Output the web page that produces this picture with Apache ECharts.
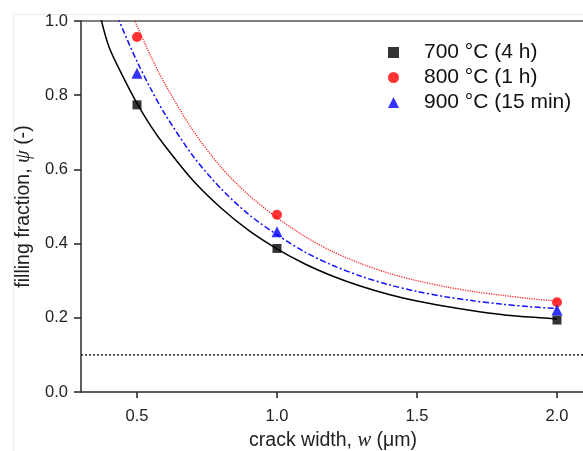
<!DOCTYPE html>
<html>
<head>
<meta charset="utf-8">
<script src="https://cdn.jsdelivr.net/npm/echarts@6/dist/echarts.min.js"></script>
<style>html,body{margin:0;padding:0;background:#fff;}#c{width:583px;height:451px;}</style>
</head>
<body>
<div id="c"></div>
<script>
const seriesNames = ['700 °C (4 h)', '800 °C (1 h)', '900 °C (15 min)'];
const pointX = [0.5, 1.0, 2.0];
const pointY700 = [0.774, 0.387, 0.194];
const pointY800 = [0.957, 0.478, 0.242];
const pointY900 = [0.859, 0.432, 0.221];

const fitX700 = [0.37,0.4,0.45,0.5,0.55,0.6,0.7,0.8,0.9,1.0,1.1,1.2,1.3,1.4,1.5,1.6,1.7,1.8,1.9,2.0];
const fitY700 = [1.01,0.93,0.85,0.778,0.716,0.663,0.570,0.496,0.435,0.386,0.345,0.312,0.285,0.263,0.245,0.231,0.219,0.209,0.202,0.197];
const fitX800 = [0.49,0.5,0.55,0.6,0.7,0.8,0.9,1.0,1.1,1.2,1.3,1.4,1.5,1.6,1.7,1.8,1.9,2.0];
const fitY800 = [1.005,0.987,0.904,0.830,0.705,0.606,0.530,0.470,0.419,0.378,0.346,0.320,0.300,0.284,0.271,0.261,0.252,0.245];
const fitX900 = [0.43,0.45,0.5,0.55,0.6,0.7,0.8,0.9,1.0,1.1,1.2,1.3,1.4,1.5,1.6,1.7,1.8,1.9,2.0];
const fitY900 = [1.013,0.976,0.891,0.816,0.749,0.636,0.548,0.478,0.424,0.377,0.341,0.312,0.289,0.271,0.257,0.246,0.237,0.230,0.225];

const limitX = [0.3, 2.1];
const limitY = [0.1, 0.1];

const xTicks = [0.5, 1.0, 1.5, 2.0];
const xRange = [0.3, 2.1];
const yRange = [0, 1.0];
const yStep = 0.2;

const zip = (xs, ys) => xs.map((x, i) => [x, ys[i]]);

const sans = 'Liberation Sans, Arial, sans-serif';
const serif = 'Liberation Serif, Times New Roman, serif';
const axisCol = '#555';

const chart = echarts.init(document.getElementById('c'), null, {renderer: 'canvas'});
chart.setOption({
  backgroundColor: '#fff',
  animation: false,
  graphic: [{
    type: 'rect', left: 11, top: 12, shape: {width: 600, height: 460},
    style: {fill: 'none', stroke: '#ececec', lineWidth: 1}, silent: true, z: -1
  }],
  grid: {left: 81, top: 21, width: 504, height: 371, outerBoundsMode: 'none', containLabel: false,
    show: true, borderColor: axisCol, borderWidth: 1.5, backgroundColor: 'transparent'},
  legend: {
    orient: 'vertical', left: 383, top: 37,
    data: seriesNames,
    itemWidth: 11, itemHeight: 11, itemGap: 4,
    textStyle: {fontFamily: sans, fontSize: 21, color: '#111', padding: [0, 0, 0, 20]}
  },
  xAxis: {
    type: 'value', min: xRange[0], max: xRange[1],
    name: '{a|crack width, }{i|w}{a| (μm)}',
    nameLocation: 'middle', nameGap: 39,
    nameTextStyle: {rich: {a: {fontFamily: sans, fontSize: 19.5, color: '#222'}, i: {fontFamily: serif, fontStyle: 'italic', fontSize: 20.5, color: '#222'}}},
    axisLine: {onZero: false, lineStyle: {color: axisCol, width: 1.5}},
    axisTick: {show: true, inside: false, length: 6, customValues: xTicks, lineStyle: {color: '#222', width: 1.5}},
    axisLabel: {customValues: xTicks, formatter: v => v.toFixed(1), fontFamily: sans, fontSize: 16.5, color: '#222', margin: 16},
    splitLine: {show: false}
  },
  yAxis: {
    type: 'value', min: yRange[0], max: yRange[1], interval: yStep,
    name: '{a|filling fraction, }{i|ψ}{a| (-)}',
    nameLocation: 'middle', nameGap: 47,
    nameTextStyle: {rich: {a: {fontFamily: sans, fontSize: 19.5, color: '#222'}, i: {fontFamily: serif, fontStyle: 'italic', fontSize: 20.5, color: '#222'}}},
    axisLine: {onZero: false, lineStyle: {color: axisCol, width: 1.5}},
    axisTick: {show: true, inside: false, length: 7, lineStyle: {color: '#222', width: 1.5}},
    axisLabel: {formatter: v => v.toFixed(1), fontFamily: sans, fontSize: 16.5, color: '#222', margin: 13},
    splitLine: {show: false}
  },
  series: [
    {type: 'line', data: zip(limitX, limitY), symbol: 'none', clip: true, lineStyle: {color: '#111', width: 1.4, type: [2, 2]}, z: 1},
    {type: 'line', data: zip(fitX700, fitY700), symbol: 'none', smooth: 0.3, clip: true, lineStyle: {color: '#000', width: 1.5}, z: 2},
    {type: 'line', data: zip(fitX800, fitY800), symbol: 'none', smooth: 0.3, clip: true, lineStyle: {color: '#ff2020', width: 1.3, type: [1.2, 1.2]}, z: 2},
    {type: 'line', data: zip(fitX900, fitY900), symbol: 'none', smooth: 0.3, clip: true, lineStyle: {color: '#1010ff', width: 1.5, type: [6, 2.5, 2, 2.5]}, z: 2},
    {name: seriesNames[0], type: 'scatter', data: zip(pointX, pointY700), symbol: 'rect', symbolSize: 9, itemStyle: {color: '#000'}, z: 5},
    {name: seriesNames[1], type: 'scatter', data: zip(pointX, pointY800), symbol: 'circle', symbolSize: 10, itemStyle: {color: '#ff0000'}, z: 5},
    {name: seriesNames[2], type: 'scatter', data: zip(pointX, pointY900), symbol: 'triangle', symbolSize: 11, itemStyle: {color: '#0000ff'}, z: 5}
  ]
});
</script>
</body>
</html>
